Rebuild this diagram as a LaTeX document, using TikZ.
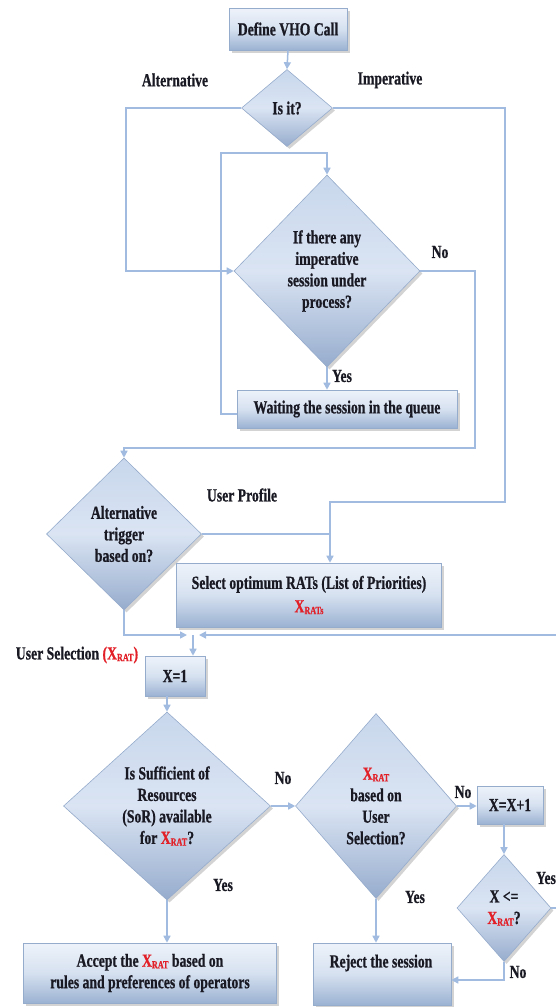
\documentclass[tikz,border=0pt]{standalone}
\usepackage{fontspec}
\setmainfont{Liberation Serif}[FakeStretch=0.74,FakeBold=0.8]
\usetikzlibrary{shapes.geometric,arrows.meta,shadows,calc}
\definecolor{lnc}{RGB}{160,186,224}
\definecolor{bdr}{RGB}{150,172,204}
\definecolor{boxtop}{RGB}{238,243,250}
\definecolor{boxmid}{RGB}{214,225,240}
\definecolor{boxbot}{RGB}{155,178,210}
\definecolor{dtop}{RGB}{200,215,236}
\definecolor{dmid}{RGB}{218,228,243}
\definecolor{dbot}{RGB}{150,172,205}
\definecolor{xred}{RGB}{226,30,38}
\definecolor{txt}{RGB}{25,25,35}
\newcommand\xr{{\color{xred}X\raisebox{-0.2ex}{\fontsize{11}{11}\selectfont RAT}}}
\newcommand\xrs{{\color{xred}X\raisebox{-0.2ex}{\fontsize{11}{11}\selectfont RATs}}}
\begin{document}
\begin{tikzpicture}[x=1pt,y=-1pt,
  every node/.style={font=\bfseries\fontsize{18.5}{21.5}\selectfont, text=txt},
  boxnode/.style={rectangle, draw=bdr, line width=0.6pt, top color=boxtop, bottom color=boxbot, middle color=boxmid,
    inner sep=0pt, align=center, drop shadow={shadow xshift=2.5pt, shadow yshift=-2.5pt, opacity=0.35}},
  dnode/.style={diamond, draw=bdr, line width=0.6pt, top color=dtop, bottom color=dbot, middle color=dmid,
    inner sep=0pt, align=center, drop shadow={shadow xshift=2.5pt, shadow yshift=-2.5pt, opacity=0.35}},
  conn/.style={draw=lnc, line width=1.5pt, -{Triangle[length=7pt,width=7pt]}},
  seg/.style={draw=lnc, line width=1.5pt},
  lbl/.style={inner sep=0pt}]
\useasboundingbox (0,0) rectangle (556,1007);
\clip (0,0) rectangle (556,1007);

% nodes
\node[boxnode, minimum width=118pt, minimum height=42pt] (def) at (288,29) {Define VHO Call};
\node[dnode, minimum width=91pt, minimum height=77pt] (isit) at (287,108) {Is it?};
\node[dnode, minimum width=186pt, minimum height=192pt] (imp) at (327,271) {If there any\\imperative\\session under\\process?};
\node[boxnode, minimum width=220pt, minimum height=38pt] (wait) at (347,409) {Waiting the session in the queue};
\node[dnode, minimum width=155pt, minimum height=152pt] (alt) at (124,534) {Alternative\\trigger\\based on?};
\node[boxnode, minimum width=265pt, minimum height=64pt] (sel) at (309,595) {Select optimum RATs (List of Priorities)\\[2pt]\xrs};
\node[boxnode, minimum width=60pt, minimum height=40pt] (x1) at (175,676) {X=1};
\node[dnode, minimum width=207pt, minimum height=188pt] (suff) at (167,806) {Is Sufficient of\\Resources\\(SoR) available\\for \xr?};
\node[boxnode, minimum width=253pt, minimum height=60pt] (acc) at (150,973) {Accept the \xr{} based on\\rules and preferences of operators};
\node[dnode, minimum width=161pt, minimum height=185pt] (xrd) at (376,806) {\xr\\based on\\User\\Selection?};
\node[boxnode, minimum width=138pt, minimum height=62pt] (rej) at (382,974) {};
\node[lbl] (rejt) at (381,963) {Reject the session};
\node[boxnode, minimum width=66pt, minimum height=38pt] (xpp) at (510,805) {X=X+1};
\node[dnode, minimum width=94pt, minimum height=107pt] (xle) at (504,908) {X <=\\\xr?};

% labels
\node[lbl] (lalt) at (175,80) {Alternative};
\node[lbl] (limp) at (390,80) {Imperative};
\node[lbl] (lno1) at (440,252) {No};
\node[lbl] (lyes1) at (342,376) {Yes};
\node[lbl] (lup) at (242,495) {User Profile};
\node[lbl] (lus) at (77,655) {User Selection \textcolor{xred}{(}\xr\textcolor{xred}{)}};
\node[lbl] (lno2) at (283,778) {No};
\node[lbl] (lyes2) at (223,885) {Yes};
\node[lbl] (lno3) at (463,792) {No};
\node[lbl] (lyes3) at (415,897) {Yes};
\node[lbl] (lyes4) at (546,878) {Yes};
\node[lbl] (lno4) at (518,972) {No};

% coordinates
\coordinate (c2) at (126,108);
\coordinate (c3a) at (505,108);
\coordinate (c3) at (330,502);
\coordinate (lp) at (221,153);
\coordinate (c6) at (475,448);
\coordinate (j) at (193,635);
\coordinate (rr) at (565,635);
\coordinate (nb) at (504,980);

% connectors
\draw[conn] (def.south) -- (isit.north);
\draw[conn] (isit.west) -- (c2) |- (imp.west);
\draw[conn] (isit.east) -- (c3a) |- (c3) -- (c3 |- sel.north);
\draw[seg] (alt.east) -- (alt.east -| c3);
\draw[conn] ($(wait.west)+(0,5)$) -| (lp) -- (lp -| imp.north) -- (imp.north);
\draw[conn] (imp.south) -- (imp.south |- wait.north);
\draw[conn] (imp.east) -| (c6) -- (c6 -| alt.north) -- (alt.north);
\draw[conn] (alt.south) |- ($(j)+(-6,0)$);
\draw[conn] (xle.east) -| (rr) -- ($(j)+(6,0)$);
\draw[conn] (j) -- (j |- x1.north);
\draw[conn] (x1.south -| suff.north) -- (suff.north);
\draw[conn] (suff.east) -- (xrd.west);
\draw[conn] (suff.south) -- (suff.south |- acc.north);
\draw[conn] (xrd.east) -- (xrd.east -| xpp.west);
\draw[conn] (xrd.south) -- (xrd.south |- rej.north);
\draw[conn] (xpp.south -| xle.north) -- (xle.north);
\draw[conn] (xle.south) -- (nb) -- (nb -| rej.east);
\end{tikzpicture}
\end{document}
